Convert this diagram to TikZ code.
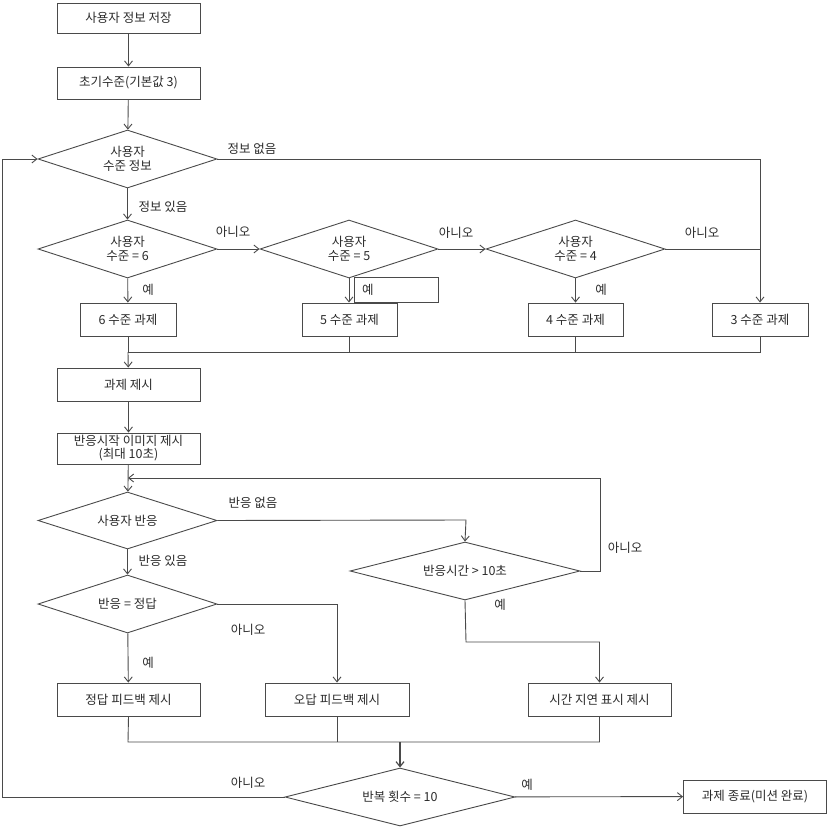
\documentclass[tikz,border=0pt]{standalone}
\usepackage{fontspec}
\setmainfont{Noto Sans CJK KR}
\usetikzlibrary{shapes.geometric,arrows.meta}
\definecolor{ln}{HTML}{4A4A4A}
\definecolor{tx}{HTML}{2A2A2A}
\tikzset{
  every node/.style={font=\fontsize{12.5}{14.5}\selectfont, text=tx},
  pbox/.style={draw=ln, line width=0.9pt, rectangle, inner sep=0pt, align=center},
  dbox/.style={draw=ln, line width=0.9pt, diamond, inner sep=0pt, align=center, aspect=3},
  conn/.style={draw=ln, line width=0.9pt},
  arr/.style={conn, -{Straight Barb[length=5pt,width=8pt]}},
  lbl/.style={inner sep=0pt}
}
\begin{document}
\begin{tikzpicture}[x=1pt,y=-1pt]
\useasboundingbox (0,0) rectangle (827,827);
% boxes
\node[pbox, minimum width=143, minimum height=30] (b1) at (128.5,18) {사용자 정보 저장};
\node[pbox, minimum width=143, minimum height=32] (b2) at (128.5,83) {초기수준(기본값 3)};
\node[dbox, minimum width=179, minimum height=58] (d1) at (127.5,159) {사용자\\수준 정보};
\node[dbox, minimum width=179, minimum height=58] (d6) at (127.5,249) {사용자\\수준 = 6};
\node[dbox, minimum width=178, minimum height=58] (d5) at (349,249) {사용자\\수준 = 5};
\node[dbox, minimum width=179, minimum height=58] (d4) at (575.5,249) {사용자\\수준 = 4};
\node[pbox, minimum width=96, minimum height=33] (l6) at (128,319.5) {6 수준 과제};
\node[pbox, minimum width=95, minimum height=33] (l5) at (349.5,319.5) {5 수준 과제};
\node[pbox, minimum width=95, minimum height=33] (l4) at (575.5,319.5) {4 수준 과제};
\node[pbox, minimum width=96, minimum height=33] (l3) at (760,319.5) {3 수준 과제};
\node[pbox, minimum width=84, minimum height=25] (yb) at (396,289.5) {};
\node[lbl, anchor=west] (ybt) at (362,289.5) {예};
\node[pbox, minimum width=143, minimum height=33] (task) at (128.5,384.5) {과제 제시};
\node[pbox, minimum width=143, minimum height=31, font=\fontsize{12.5}{13}\selectfont] (start) at (128.5,448.5) {반응시작 이미지 제시\\(최대 10초)};
\node[dbox, minimum width=179, minimum height=57] (dr) at (127.5,520.5) {사용자 반응};
\node[dbox, minimum width=230, minimum height=58] (dt) at (465,571) {반응시간 > 10초};
\node[dbox, minimum width=179, minimum height=58] (dc) at (127.5,604) {반응 = 정답};
\node[pbox, minimum width=143, minimum height=33] (fc) at (128.5,699.5) {정답 피드백 제시};
\node[pbox, minimum width=144, minimum height=33] (fw) at (337,699.5) {오답 피드백 제시};
\node[pbox, minimum width=143, minimum height=33] (fd) at (599.5,699.5) {시간 지연 표시 제시};
\node[dbox, minimum width=230, minimum height=58] (dn) at (400,797) {반복 횟수 = 10};
\node[pbox, minimum width=143, minimum height=33] (end) at (755,796.5) {과제 종료(미션 완료)};
% coordinates
\coordinate (c1) at (760,159);
\coordinate (c4) at (760,249);
\coordinate (m1) at (128,352);
\coordinate (m3) at (760,352);
\coordinate (lp) at (128,478);
\coordinate (lpr) at (600,478);
\coordinate (dtr) at (600,571);
\coordinate (ra) at (466,520);
\coordinate (t1) at (466,642);
\coordinate (t2) at (599.5,642);
\coordinate (wa) at (337,604);
\coordinate (n1) at (128,742);
\coordinate (n2) at (400,742);
\coordinate (n3) at (599.5,742);
\coordinate (back1) at (2,797);
\coordinate (back2) at (2,159);
% connectors
\draw[arr] (b1) -- (b2);
\draw[arr] (b2) -- (d1);
\draw[arr] (d1.east) -- (c1) -- (l3.north);
\draw[arr] (d1) -- (d6);
\draw[arr] (d6) -- (d5);
\draw[arr] (d5) -- (d4);
\draw[conn] (d4.east) -- (c4);
\draw[arr] (d6) -- (l6);
\draw[arr] (d5.south) -- (d5.south |- l5.north);
\draw[arr] (d4) -- (l4);
\draw[conn] (l6.south) -- (m1) -- (m3) -- (l3.south);
\draw[conn] (l5.south) -- (l5.south |- m1);
\draw[conn] (l4.south) -- (l4.south |- m1);
\draw[arr] (m1) -- (task);
\draw[arr] (task) -- (start);
\draw[arr] (start) -- (dr);
\draw[arr] (dt.east) -- (dtr) -- (lpr) -- (lp);
\draw[arr] (dr.east) -- (ra) -- (dt.north);
\draw[arr] (dt.south) -- (t1) -- (t2) -- (fd.north);
\draw[arr] (dr) -- (dc);
\draw[arr] (dc.east) -- (wa) -- (fw.north);
\draw[arr] (dc) -- (fc);
\draw[conn] (fc.south) -- (n1) -- (n3) -- (fd.south);
\draw[conn] (fw.south) -- (fw.south |- n1);
\draw[arr, line width=1.2pt] (n2) -- (dn);
\draw[arr] (dn.west) -- (back1) -- (back2) -- (d1.west);
\draw[arr] (dn) -- (end);
% labels
\node[lbl] (t_a) at (252,149) {정보 없음};
\node[lbl] (t_b) at (163,207) {정보 있음};
\node[lbl] (t_c) at (233,232) {아니오};
\node[lbl] (t_d) at (456,233) {아니오};
\node[lbl] (t_e) at (702,233) {아니오};
\node[lbl] (t_f) at (148,290) {예};
\node[lbl] (t_g) at (601,290) {예};
\node[lbl] (t_h) at (253,503) {반응 없음};
\node[lbl] (t_i) at (625,548) {아니오};
\node[lbl] (t_j) at (500,605) {예};
\node[lbl] (t_k) at (163,561) {반응 있음};
\node[lbl] (t_l) at (248,630) {아니오};
\node[lbl] (t_m) at (148,663) {예};
\node[lbl] (t_n) at (248,783) {아니오};
\node[lbl] (t_o) at (527,785) {예};
\end{tikzpicture}
\end{document}
